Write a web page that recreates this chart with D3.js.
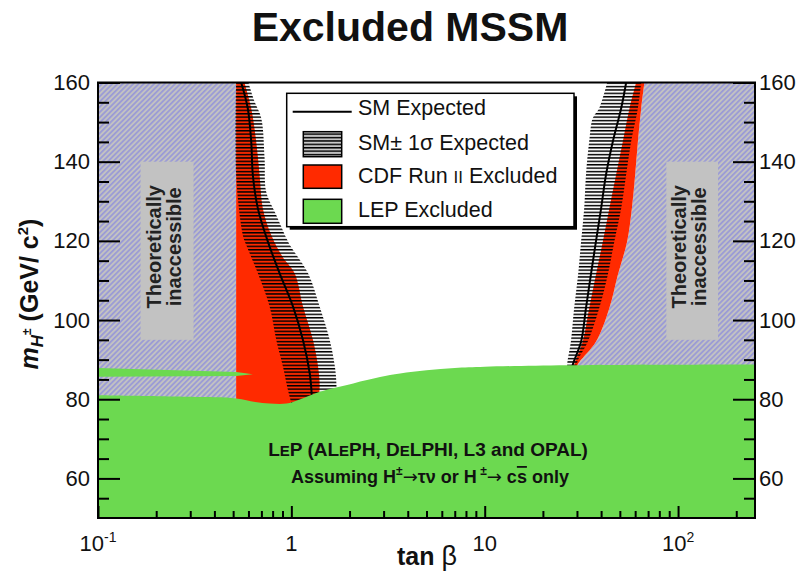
<!DOCTYPE html>
<html><head><meta charset="utf-8">
<script src="https://cdn.jsdelivr.net/npm/d3@7"></script>
<style>
body{margin:0;background:#fff}
svg{display:block}
text{font-family:"Liberation Sans",Arial,Helvetica,sans-serif}
</style>
</head><body>
<svg id="c" width="798" height="574"></svg>
<script>
// ---------- data (tan beta, m_H+ in GeV/c^2) ----------
const xDomain = [0.1, 250];
const yDomain = [50, 160];
const xMajorTicks = [0.1, 1, 10, 100];
const xMinorTicks = [0.2,0.3,0.4,0.5,0.6,0.7,0.8,0.9,2,3,4,5,6,7,8,9,20,30,40,50,60,70,80,90,200];
const yMajorTicks = [60, 80, 100, 120, 140, 160];
const yMinorTicks = [55,65,70,75,85,90,95,105,110,115,125,130,135,145,150,155];

// theoretically inaccessible regions
const theoryLeftEdge = 0.518;
const theoryRight = [[67,160],[64.5,153.5],[62.0,145.1],[60.0,136.7],[57.7,128.2],[54.5,119.8],[48.8,111.4],[44.1,103.0],[37.6,94.5],[31.0,89.5],[30.2,88.6],[29.5,86]];
const labelBoxLeft = [0.166, 0.312];
const labelBoxRight = [87, 161];
const labelBoxMass = [95, 140];

// LEP excluded (upper edge of excluded region)
const lepTop = [[0.1,81.0],[0.3,80.6],[0.518,80.2],[0.65,79.3],[0.772,78.9],[0.942,78.9],[1.104,79.95],[1.403,81.9],[2.09,84.0],[2.875,85.6],[3.65,86.5],[5,87.3],[7,87.9],[10,88.2],[26.7,88.6],[250,88.8]];
const lepSliver = [[0.1,87.9],[0.518,86.9],[0.632,86.3],[0.518,85.85],[0.1,85.7]];

// CDF Run II excluded
const cdfLowLeftEdge = [[0.518,160],[0.518,75]];
const cdfLowRightEdge = [[0.572,160],[0.62,153.5],[0.658,145.1],[0.685,136.7],[0.712,128.2],[0.787,121.5],[0.90,116.0],[1.04,111.8],[1.149,103.4],[1.295,94.9],[1.375,88.2],[1.40,83],[1.35,76]];
const cdfHighLeftEdge = [[60.7,160],[56.1,153.5],[51.8,145.1],[47.8,136.7],[44.1,128.2],[40.8,119.8],[37.6,111.4],[34.7,103.0],[32.1,94.5],[29.0,88.6],[28.5,86]];

// SM expected and +-1 sigma band
const expLow = [[0.55,160],[0.595,153.5],[0.62,145.1],[0.632,136.7],[0.671,128.2],[0.756,119.8],[0.87,111.8],[1.02,103.4],[1.149,94.9],[1.245,86.5],[1.27,82.3],[1.28,79]];
const bandLowLeft = [[0.518,160],[0.518,136.7],[0.561,121.5],[0.584,119.0],[0.671,111.8],[0.772,103.4],[0.836,94.9],[0.905,88.2],[0.96,82.3],[1.0,79]];
const bandLowRight = [[0.60,160],[0.645,155.2],[0.699,151.0],[0.727,140.9],[0.741,132.4],[0.836,126.5],[0.942,120.7],[0.98,119.0],[1.22,111.8],[1.40,103.4],[1.58,94.9],[1.68,88.2],[1.71,84.0],[1.71,79]];
const expHigh = [[53.9,160],[50.8,153.5],[46.0,145.1],[42.4,136.7],[40.0,128.2],[37.6,119.8],[35.4,111.4],[33.4,103.0],[31.5,94.5],[28.5,88.6],[28,86]];
const bandHighLeft = [[43.0,160],[39.1,153.5],[36.2,151],[34.7,145.1],[33.4,136.7],[32.7,128.2],[31.5,119.8],[30.4,111.4],[29.0,103.0],[27.9,94.5],[26.8,89.5],[26.5,86]];
const bandHighRight = [[64.5,160],[62.0,153.5],[57.2,145.1],[53.9,136.7],[50.8,128.2],[46.8,119.8],[43.3,111.4],[39.1,103.0],[34.1,94.5],[30.2,89.5],[29.5,86]];

const legendItems = ["SM Expected", "SM\u00b1 1\u03c3 Expected", "CDF Run II Excluded", "LEP Excluded"];

// ---------- drawing ----------
const svg = d3.select("#c");
const L = 98, R = 755, T = 82.5, B = 518;
const x = d3.scaleLog().domain(xDomain).range([L, R]);
const y = d3.scaleLinear().domain(yDomain).range([B, T]);

const RED = "#ff2a00", GREEN = "#6cd950", GREY = "#c2c2c2";

const defs = svg.append("defs");
const hatch = defs.append("pattern").attr("id","hatch").attr("patternUnits","userSpaceOnUse")
  .attr("width",3.7).attr("height",3.7).attr("patternTransform","rotate(45)");
hatch.append("rect").attr("width",3.7).attr("height",3.7).attr("fill",GREY);
hatch.append("line").attr("x1",1.85).attr("x2",1.85).attr("y1",0).attr("y2",3.7)
  .attr("stroke","#6262f2").attr("stroke-width",0.75);
const bandPat = defs.append("pattern").attr("id","band").attr("patternUnits","userSpaceOnUse")
  .attr("width",10).attr("height",3.4);
bandPat.append("rect").attr("x",0).attr("y",0.8).attr("width",10).attr("height",1.5).attr("fill","#000");
defs.append("clipPath").attr("id","clip").append("rect")
  .attr("x",L).attr("y",T).attr("width",R-L).attr("height",B-T);

const plot = svg.append("g").attr("clip-path","url(#clip)");
const line = d3.line().x(d=>x(d[0])).y(d=>y(d[1])).curve(d3.curveCatmullRom.alpha(0.5));
const lineLin = d3.line().x(d=>x(d[0])).y(d=>y(d[1]));
function region(a, b){
  const p1 = line(a);
  const p2 = line(b.slice().reverse());
  return p1 + "L" + p2.slice(1) + "Z";
}

// theoretically inaccessible (hatched)
plot.append("rect").attr("x",x(xDomain[0])).attr("y",y(yDomain[1]))
  .attr("width",x(theoryLeftEdge)-x(xDomain[0])).attr("height",y(yDomain[0])-y(yDomain[1]))
  .attr("fill","url(#hatch)");
plot.append("path").attr("d",region(theoryRight,[[xDomain[1],yDomain[1]],[xDomain[1],86]]))
  .attr("fill","url(#hatch)");

// CDF excluded
plot.append("path").attr("d",region(cdfLowLeftEdge,cdfLowRightEdge)).attr("fill",RED);
plot.append("path").attr("d",region(cdfHighLeftEdge,theoryRight)).attr("fill",RED);

// +-1 sigma bands
plot.append("path").attr("d",region(bandLowLeft,bandLowRight)).attr("fill","url(#band)");
plot.append("path").attr("d",region(bandHighLeft,bandHighRight)).attr("fill","url(#band)");

// expected lines
plot.append("path").attr("d",line(expLow)).attr("fill","none").attr("stroke","#000").attr("stroke-width",2);
plot.append("path").attr("d",line(expHigh)).attr("fill","none").attr("stroke","#000").attr("stroke-width",2);

// LEP excluded
plot.append("path").attr("d", line(lepTop) + `L${x(xDomain[1])},${y(yDomain[0])}L${x(xDomain[0])},${y(yDomain[0])}Z`)
  .attr("fill",GREEN);
plot.append("path").attr("d", lineLin(lepSliver)+"Z").attr("fill",GREEN);

// label boxes
function labelBox(xr){
  const x0 = x(xr[0]), x1 = x(xr[1]), y0 = y(labelBoxMass[1]), y1 = y(labelBoxMass[0]);
  plot.append("rect").attr("x",x0).attr("y",y0).attr("width",x1-x0).attr("height",y1-y0).attr("fill",GREY);
  const cx = (x0+x1)/2, cy = (y0+y1)/2 - 4;
  const t = svg.append("text").attr("transform",`translate(${cx},${cy}) rotate(-90)`)
    .attr("text-anchor","middle").attr("font-size",20).attr("font-weight","bold").attr("fill","#222");
  t.append("tspan").attr("x",0).attr("y",-6).text("Theoretically");
  t.append("tspan").attr("x",0).attr("y",14).text("inaccessible");
}
labelBox(labelBoxLeft);
labelBox(labelBoxRight);

// LEP text
const lepTxt = svg.append("g").attr("font-weight","bold").attr("fill","#111").attr("text-anchor","middle");
const l1 = lepTxt.append("text").attr("x",428).attr("y",455.5).attr("font-size",19);
[["L",19],["E",15],["P (AL",19],["E",15],["PH, D",19],["E",15],["LPHI, L3 and OPAL)",19]].forEach(([s,f])=>l1.append("tspan").attr("font-size",f).text(s));
const l2 = lepTxt.append("text").attr("x",430).attr("y",483).attr("font-size",18);
l2.append("tspan").text("Assuming H");
l2.append("tspan").attr("font-size",12).attr("dy",-8).text("\u00b1");
l2.append("tspan").attr("dy",8).attr("font-family","DejaVu Sans").attr("font-weight","normal").text("\u2192");
l2.append("tspan").text("\u03c4\u03bd or H");
l2.append("tspan").attr("font-size",12).attr("dy",-8).text(" \u00b1");
l2.append("tspan").attr("dy",8).attr("font-family","DejaVu Sans").attr("font-weight","normal").text("\u2192");
l2.append("tspan").text(" c");
l2.append("tspan").style("text-decoration","overline").text("s");
l2.append("tspan").text(" only");

// ---------- legend ----------
const lg = svg.append("g");
const lx = 286.7, ly = 93.3, lw = 287.3, lh = 133.4;
lg.append("rect").attr("x",lx+3).attr("y",ly+3).attr("width",lw).attr("height",lh).attr("fill","#000");
lg.append("rect").attr("x",lx).attr("y",ly).attr("width",lw).attr("height",lh).attr("fill","#fff").attr("stroke","#000").attr("stroke-width",1.5);
lg.append("line").attr("x1",292.7).attr("x2",351.7).attr("y1",111.7).attr("y2",111.7).attr("stroke","#000").attr("stroke-width",2);
lg.append("rect").attr("x",303.3).attr("y",131.7).attr("width",38.4).attr("height",25).attr("fill","#ccc");
lg.append("rect").attr("x",303.3).attr("y",131.7).attr("width",38.4).attr("height",25).attr("fill","url(#band)").attr("stroke","#000").attr("stroke-width",1.5);
lg.append("rect").attr("x",303.3).attr("y",165).attr("width",38.4).attr("height",23.3).attr("fill",RED).attr("stroke","#000").attr("stroke-width",1.5);
lg.append("rect").attr("x",303.3).attr("y",199.3).attr("width",38.4).attr("height",24).attr("fill",GREEN).attr("stroke","#000").attr("stroke-width",1.5);
const lt = lg.append("g").attr("font-size",21.5).attr("fill","#111");
lt.append("text").attr("x",358).attr("y",115).text(legendItems[0]);
lt.append("text").attr("x",358).attr("y",149.5).text(legendItems[1]);
const t3 = lt.append("text").attr("x",358).attr("y",183);
t3.append("tspan").text("CDF Run ");
t3.append("tspan").attr("font-size",17).text("II");
t3.append("tspan").text(" Excluded");
lt.append("text").attr("x",358).attr("y",217).text(legendItems[3]);

// ---------- axes ----------
function styleAxis(g){
  g.select(".domain").remove();
  g.selectAll("line").attr("stroke","#000").attr("stroke-width",2);
  g.selectAll("text").attr("font-size",22).attr("fill","#111").attr("font-family",'"Liberation Sans",Arial,sans-serif');
}
svg.append("g").attr("transform",`translate(0,${B})`)
  .call(d3.axisBottom(x).tickValues(xMajorTicks).tickSize(-12).tickFormat(()=>"")).call(styleAxis);
svg.append("g").attr("transform",`translate(0,${B})`)
  .call(d3.axisBottom(x).tickValues(xMinorTicks).tickSize(-7).tickFormat(()=>"")).call(styleAxis);
svg.append("g").attr("transform",`translate(${L},0)`)
  .call(d3.axisLeft(y).tickValues(yMajorTicks).tickSize(-22).tickPadding(8)).call(styleAxis);
svg.append("g").attr("transform",`translate(${L},0)`)
  .call(d3.axisLeft(y).tickValues(yMinorTicks).tickSize(-11).tickFormat(()=>"")).call(styleAxis);
svg.append("g").attr("transform",`translate(${R},0)`)
  .call(d3.axisRight(y).tickValues(yMajorTicks).tickSize(-22).tickPadding(4)).call(styleAxis);
svg.append("g").attr("transform",`translate(${R},0)`)
  .call(d3.axisRight(y).tickValues(yMinorTicks).tickSize(-11).tickFormat(()=>"")).call(styleAxis);

// frame
svg.append("rect").attr("x",L).attr("y",T).attr("width",R-L).attr("height",B-T)
  .attr("fill","none").attr("stroke","#000").attr("stroke-width",2);

// x tick labels (powers of ten)
const xl = svg.append("g").attr("font-size",22).attr("fill","#111").attr("text-anchor","middle");
xMajorTicks.forEach(v=>{
  const e = Math.round(Math.log10(v));
  const t = xl.append("text").attr("x",x(v)).attr("y",551);
  if (e === 0) t.text("1");
  else if (e === 1) t.text("10");
  else { t.append("tspan").text("10"); t.append("tspan").attr("font-size",14).attr("dy",-9).text(String(e)); }
});

// titles
svg.append("text").attr("x",410).attr("y",41).attr("text-anchor","middle")
  .attr("font-size",41).attr("font-weight","bold").attr("fill","#111").text("Excluded MSSM");
const xt = svg.append("text").attr("x",427).attr("y",565).attr("text-anchor","middle").attr("font-size",25).attr("fill","#111");
xt.append("tspan").attr("font-weight","bold").text("tan ");
xt.append("tspan").attr("font-size",27).text("\u03b2");
const yt = svg.append("text").attr("transform","translate(38,294) rotate(-90)").attr("text-anchor","middle")
  .attr("font-size",25).attr("font-weight","bold").attr("fill","#111");
yt.append("tspan").attr("font-style","italic").text("m");
yt.append("tspan").attr("font-style","italic").attr("font-size",17).attr("dy",5).text("H");
yt.append("tspan").attr("font-size",12).attr("dy",-12).text("\u00b1");
yt.append("tspan").attr("dy",7).text(" (GeV/ c");
yt.append("tspan").attr("font-size",15).attr("dy",-10).text("2");
yt.append("tspan").attr("dy",10).text(")");
</script>
</body></html>
